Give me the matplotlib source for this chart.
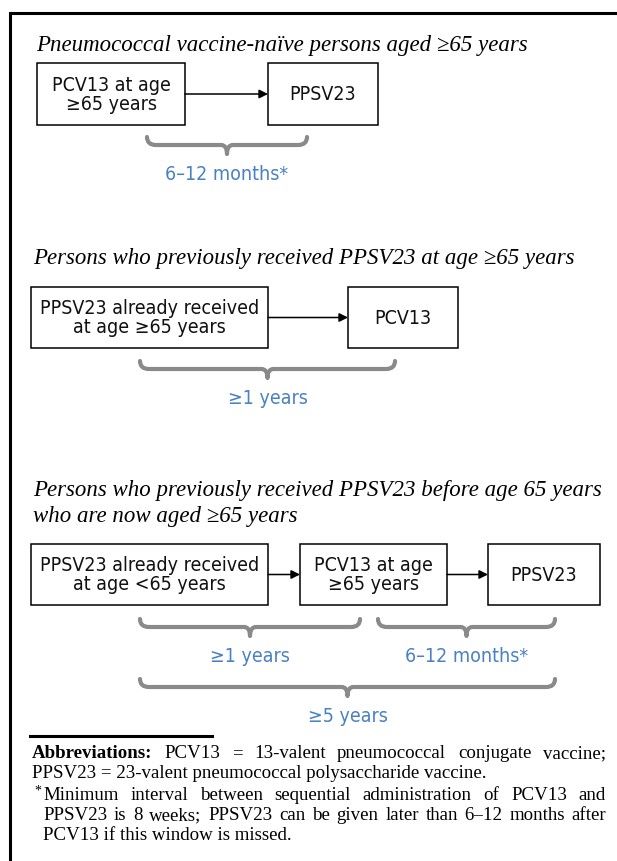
import matplotlib
matplotlib.use("Agg")
import matplotlib.pyplot as plt
from matplotlib.patches import Rectangle, PathPatch
from matplotlib.path import Path

W, H = 617, 862

# section headings: text, x, y (pixel units, y down)
title_text = ["Pneumococcal vaccine-naïve persons aged ≥65 years",
              "Persons who previously received PPSV23 at age ≥65 years",
              "Persons who previously received PPSV23 before age 65 years",
              "who are now aged ≥65 years"]
title_x = [36, 33, 33, 33]
title_y = [45, 259, 491, 517]

# boxes
box_labels = ["PCV13 at age\n≥65 years", "PPSV23",
              "PPSV23 already received\nat age ≥65 years", "PCV13",
              "PPSV23 already received\nat age <65 years", "PCV13 at age\n≥65 years", "PPSV23"]
box_left = [37, 268, 31, 348, 31, 300, 488]
box_right = [185, 378, 268, 458, 268, 447, 600]
box_top = [64, 64, 288, 288, 545, 545, 545]
box_bottom = [126, 126, 349, 349, 606, 606, 606]

# arrows between boxes (from, to)
arrow_pairs = [(0, 1), (2, 3), (4, 5), (5, 6)]

# braces under the boxes
brace_x0 = [147, 140, 140, 378, 140]
brace_x1 = [307, 395, 360, 555, 555]
brace_y = [138, 362, 620, 620, 680]
brace_labels = ["6–12 months*", "≥1 years", "≥1 years", "6–12 months*", "≥5 years"]

# footnotes
abbr_lines = [[("Abbreviations:", "bold"), "PCV13", "=", "13-valent", "pneumococcal", "conjugate", "vaccine;"],
              "PPSV23 = 23-valent pneumococcal polysaccharide vaccine."]
note_lines = ["Minimum interval between sequential administration of PCV13 and",
              "PPSV23 is 8 weeks; PPSV23 can be given later than 6–12 months after",
              "PCV13 if this window is missed."]

SANS = ["DejaVu Sans"]
SERIF = ["Liberation Serif", "DejaVu Serif"]
BLUE = "#4a80c4"
GREY = "#8a8a8a"

fig = plt.figure(figsize=(W / 100, H / 100), dpi=100)
ax = fig.add_axes([0, 0, 1, 1])
ax.set_xlim(0, W)
ax.set_ylim(H, 0)
ax.axis("off")
r = fig.canvas.get_renderer()

# outer frame (left + top only, rest is cropped)
ax.plot([10, 10, W], [H, 14, 14], color="black", lw=2.2, solid_joinstyle="miter")

for t, x, y in zip(title_text, title_x, title_y):
    ax.text(x, y, t, family=SERIF, style="italic", fontsize=16.5, va="center", ha="left")

for lab, l, rr, tp, b in zip(box_labels, box_left, box_right, box_top, box_bottom):
    ax.add_patch(Rectangle((l, tp), rr - l, b - tp, fill=False, ec="black", lw=1.1))
    ax.text((l + rr) / 2, (tp + b) / 2, lab, family=SANS, stretch="condensed", fontsize=14,
            ha="center", va="center", linespacing=1.0, color="#111111")

for a, b in arrow_pairs:
    yy = (box_top[a] + box_bottom[a]) / 2
    ax.annotate("", xy=(box_left[b], yy), xytext=(box_right[a], yy),
                arrowprops=dict(arrowstyle="-|>", mutation_scale=13, lw=1.1, color="black",
                                shrinkA=0, shrinkB=0))


def brace(x0, x1, y0, d1=8, d2=17, rad=9):
    xm = (x0 + x1) / 2
    verts = [(x0, y0), (x0, y0 + d1), (x0 + rad, y0 + d1),
             (xm - 6, y0 + d1), (xm, y0 + d1), (xm, y0 + d2),
             (xm, y0 + d1), (xm + 6, y0 + d1),
             (x1 - rad, y0 + d1), (x1, y0 + d1), (x1, y0)]
    codes = [Path.MOVETO, Path.CURVE3, Path.CURVE3,
             Path.LINETO, Path.CURVE3, Path.CURVE3,
             Path.CURVE3, Path.CURVE3,
             Path.LINETO, Path.CURVE3, Path.CURVE3]
    ax.add_patch(PathPatch(Path(verts, codes), fill=False, ec=GREY, lw=3.0, capstyle="round",
                           joinstyle="round"))


for x0, x1, y0, lab in zip(brace_x0, brace_x1, brace_y, brace_labels):
    brace(x0, x1, y0)
    ax.text((x0 + x1) / 2, y0 + 37, lab, family=SANS, stretch="condensed", fontsize=14,
            color=BLUE, ha="center", va="center")

# footnote rule
ax.plot([30, 212], [737, 737], color="black", lw=2.2)


def justify(words, x0, x1, y, size):
    items = []
    for w in words:
        if isinstance(w, tuple):
            items.append(w)
        else:
            items.append((w, "normal"))
    ts = [ax.text(0, y, w, family=SERIF, fontsize=size, weight=wt, va="baseline") for w, wt in items]
    widths = [t.get_window_extent(r).width for t in ts]
    gap = (x1 - x0 - sum(widths)) / (len(ts) - 1)
    x = x0
    for t, w in zip(ts, widths):
        t.set_x(x)
        x += w + gap


FS = 13.6
justify(abbr_lines[0], 32, 606, 758, FS)
ax.text(32, 778, abbr_lines[1], family=SERIF, fontsize=FS, va="baseline")
ax.text(34, 795, "*", family=SERIF, fontsize=10, va="baseline")
justify(note_lines[0].split(), 43, 606, 800, FS)
justify(note_lines[1].split(), 43, 606, 820, FS)
ax.text(43, 840, note_lines[2], family=SERIF, fontsize=FS, va="baseline")

fig.savefig("out.png", dpi=100)
